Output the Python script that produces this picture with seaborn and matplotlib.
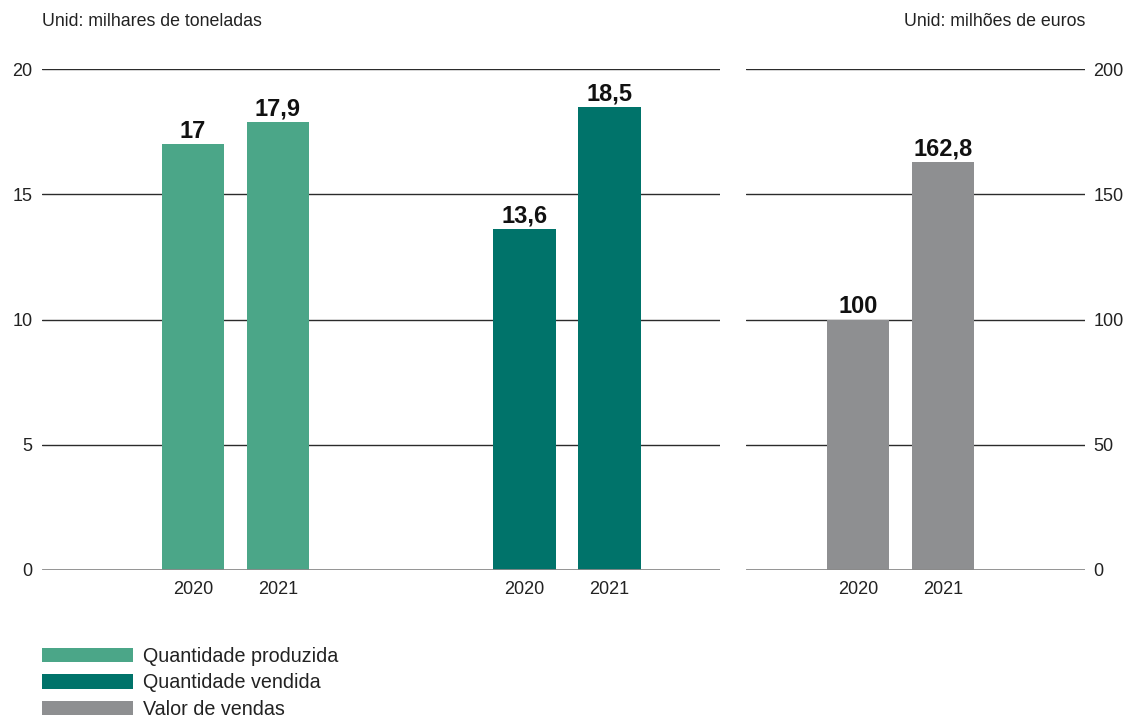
import numpy as np
import pandas as pd
import matplotlib
matplotlib.use("Agg")
import matplotlib.pyplot as plt
from matplotlib.patches import Patch
import seaborn as sns

# ========== data ==========
anos = ["2020", "2021"]
series = ["Quantidade produzida", "Quantidade vendida", "Valor de vendas"]
produzida = [17.0, 17.9]      # milhares de toneladas
vendida = [13.6, 18.5]        # milhares de toneladas
valor_vendas = [100.0, 162.8] # milhões de euros
cores = {"Quantidade produzida": "#4BA688",
         "Quantidade vendida": "#00736A",
         "Valor de vendas": "#8E8F91"}

sns.set_theme(style="white")
plt.rcParams["font.family"] = ["Liberation Sans", "DejaVu Sans"]

def fmt(v):
    return f"{v:g}".replace(".", ",")

# posições das barras (unidade = distância entre 2020 e 2021)
gap = 3.9
df_left = pd.DataFrame({
    "x": [0, 1, gap, gap + 1],
    "valor": produzida + vendida,
    "serie": [series[0]] * 2 + [series[1]] * 2,
})
df_right = pd.DataFrame({"x": [0, 1], "valor": valor_vendas, "serie": [series[2]] * 2})

fig = plt.figure(figsize=(11.27, 7.18), dpi=100)
ax1 = fig.add_axes([42 / 1127, 1 - 570 / 718, (720 - 42) / 1127, (570 - 69) / 718])
ax2 = fig.add_axes([746 / 1127, 1 - 570 / 718, (1085 - 746) / 1127, (570 - 69) / 718])

for ax, df in [(ax1, df_left), (ax2, df_right)]:
    sns.barplot(data=df, x="x", y="valor", hue="serie", palette=cores, native_scale=True,
                dodge=False, width=0.73, legend=False, ax=ax, saturation=1, linewidth=0)

for ax, ymax, step, xlim, xt in [(ax1, 20, 5, (-1.776, 6.2), [0, 1, gap, gap + 1]),
                                 (ax2, 200, 50, (-1.318, 2.67), [0, 1])]:
    ax.set_ylim(0, ymax)
    ax.set_xlim(*xlim)
    ax.set_yticks(np.arange(0, ymax + 1, step))
    ax.set_xticks(xt)
    ax.set_xticklabels(anos * (len(xt) // 2))
    ax.set_xlabel("")
    ax.set_ylabel("")
    for s in ax.spines.values():
        s.set_visible(False)
    for t in ax.get_yticks()[1:]:
        ax.axhline(t, color="#2b2b2b", lw=1.0, zorder=0)
    ax.axhline(0, color="#8a8a8a", lw=2.0, zorder=3)
    ax.tick_params(axis="both", length=0, labelsize=13, colors="#222222")
    ax.tick_params(axis="x", pad=8)
    for c in ax.containers:
        ax.bar_label(c, labels=[fmt(v) for v in c.datavalues], padding=1,
                     fontsize=17, fontweight="bold", color="#111111")

ax1.tick_params(axis="y", pad=7)
ax2.yaxis.tick_right()
ax2.tick_params(axis="y", pad=6)

fig.text(42 / 1127, 1 - 22 / 718, "Unid: milhares de toneladas", fontsize=12.8,
         color="#222222", ha="left", va="center")
fig.text(1085 / 1127, 1 - 22 / 718, "Unid: milhões de euros", fontsize=12.8,
         color="#222222", ha="right", va="center")

handles = [Patch(facecolor=cores[s], edgecolor="none") for s in series]
fig.legend(handles, series, loc="upper left", bbox_to_anchor=(42 / 1127, 1 - 647 / 718),
           frameon=False, fontsize=14.2, handlelength=4.6, handleheight=0.75,
           handletextpad=0.5, labelspacing=0.38, borderpad=0, borderaxespad=0,
           labelcolor="#222222")

fig.savefig("out.png", dpi=100)
